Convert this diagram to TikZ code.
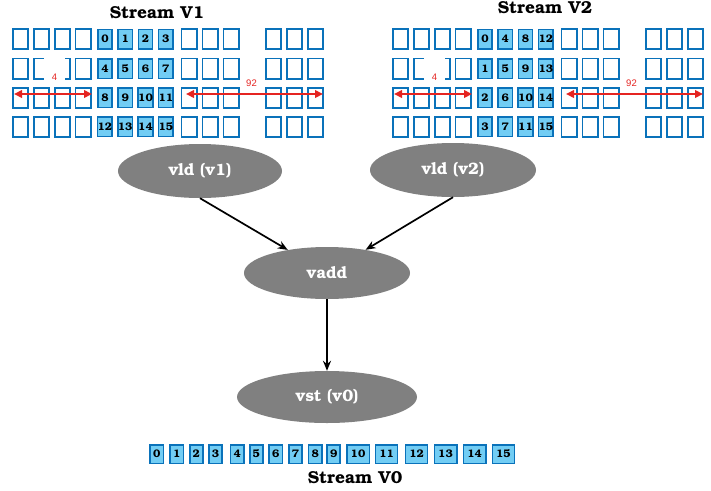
\documentclass[tikz,border=0pt]{standalone}
\usepackage{fontspec}
\setmainfont{TeX Gyre Bonum}
\newfontfamily\labelfont{Liberation Sans}
\usetikzlibrary{shapes.geometric,arrows.meta}
\definecolor{boxblue}{HTML}{0A72BA}
\definecolor{fillblue}{HTML}{72CDF4}
\definecolor{ellgray}{HTML}{808080}
\definecolor{dimred}{HTML}{E52421}
\tikzset{
  cell/.style={draw=boxblue, line width=1.8pt, fill=white, minimum width=15.2pt, minimum height=20.2pt, inner sep=0pt},
  fullcell/.style={draw=boxblue, line width=1.5pt, fill=fillblue, minimum width=14.3pt, minimum height=19.5pt, inner sep=0pt, font=\bfseries\fontsize{11}{12}\selectfont},
  title/.style={font=\bfseries\fontsize{17.3}{19}\selectfont, inner sep=0pt},
  op/.style={ellipse, fill=ellgray, text=white, inner sep=0pt, font=\bfseries\fontsize{16.5}{18}\selectfont},
  flow/.style={-{Stealth[length=10pt,width=8pt]}, line width=1.7pt, black},
  dim/.style={{Triangle[length=8pt,width=7.5pt]}-{Triangle[length=8pt,width=7.5pt]}, line width=2.2pt, dimred},
  dimlab/.style={font=\labelfont\fontsize{9.5}{10}\selectfont, text=dimred, fill=white}
}
\begin{document}
\begin{tikzpicture}[x=1pt,y=-1pt]
\useasboundingbox (0,0) rectangle (711,490);
% titles
\node[title] (t1) at (157,13) {Stream V1};
\node[title] (t2) at (545,8) {Stream V2};
\node[title] (t0) at (355,478) {Stream V0};
% grids
\foreach \g/\dx in {a/0,b/380}{
  \foreach \r/\y in {0/39,1/68.5,2/97.7,3/126.8}{
    \foreach \x [count=\c] in {20.7,41.5,62.3,83.1,189,210,231,273.3,294.3,315.6}
      \node[cell] (\g-\r-e\c) at (\x+\dx,\y) {};
  }
}
\foreach \r/\y in {0/39,1/68.5,2/97.7,3/126.8}{
  \foreach \k/\x in {0/104.9,1/125.2,2/145.5,3/165.8}{
    \pgfmathtruncatemacro\na{4*\r+\k}
    \pgfmathtruncatemacro\nb{\r+4*\k}
    \node[fullcell] (a-\r-f\k) at (\x,\y) {\na};
    \node[fullcell] (b-\r-f\k) at (\x+380,\y) {\nb};
  }
}
% white label patches and dimension arrows
\foreach \g/\dx in {a/0,b/380}{
  \node[dimlab, inner xsep=0pt, inner ysep=2pt, minimum width=21pt] (\g-l4) at (54.5+\dx,69) {\rule{0pt}{22pt}4};
  \node[dimlab, inner sep=1pt] (\g-l92) at (251.5+\dx,83) {92};
  \coordinate (\g-d1) at (14+\dx,94);
  \coordinate (\g-d2) at (92+\dx,94);
  \coordinate (\g-d3) at (186+\dx,94);
  \coordinate (\g-d4) at (323+\dx,94);
  \draw[dim] (\g-d1) -- (\g-d2);
  \draw[dim] (\g-d3) -- (\g-d4);
}
% stream V0
\foreach \n/\x/\w in {0/156.7/15,1/176.7/15,2/196.3/14.5,3/215.5/14.5,4/237.2/15,5/256.3/14.5,6/275.8/15,7/295.5/14.5,8/315.2/15,9/333.7/14.5,10/358/24,11/386.7/23.5,12/416.7/23.5,13/445.5/24,14/474.7/24,15/503.3/23.5}
  \node[fullcell, minimum width=\w pt-1.5pt, minimum height=18.5pt] (v0-\n) at (\x,454) {\n};
% operations
\node[op, minimum width=164pt, minimum height=54pt] (v1) at (200,171) {vld (v1)};
\node[op, minimum width=166pt, minimum height=54pt] (v2) at (453,170) {vld (v2)};
\node[op, minimum width=166pt, minimum height=52pt] (vadd) at (327,273) {vadd};
\node[op, minimum width=180pt, minimum height=52pt] (vst) at (327,397) {vst (v0)};
\draw[flow] (v1.south) -- (vadd);
\draw[flow] (v2.south) -- (vadd);
\draw[flow] (vadd) -- (vst);
\end{tikzpicture}
\end{document}
